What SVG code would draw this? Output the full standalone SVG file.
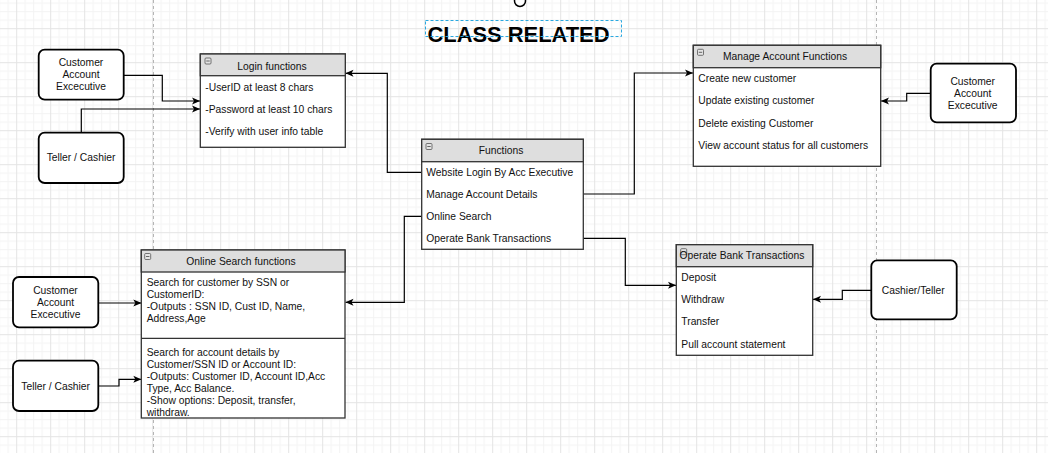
<svg xmlns="http://www.w3.org/2000/svg" width="1048" height="453" viewBox="0 0 1048 453">
<style>
.t{font-family:"Liberation Sans",Arial,sans-serif;font-size:10.3px;fill:#111}
.c{text-anchor:middle}
.box{fill:#fff;stroke:#333;stroke-width:1.3}
.hdr{fill:#dedede;stroke:#333;stroke-width:1.3}
.act{fill:#fff;stroke:#000;stroke-width:1.8}
.ico{fill:#e4e4e4;stroke:#555;stroke-width:0.8}
.ln{fill:none;stroke:#000;stroke-width:1.2}
.pb{stroke:#b5b5b5;stroke-width:1;stroke-dasharray:3,3}
</style>
<defs>
<pattern id="g" x="16.2" y="28.2" width="34" height="34" patternUnits="userSpaceOnUse">
<rect x="8.5" y="0" width="1" height="34" fill="#f3f3f3"/>
<rect x="17" y="0" width="1" height="34" fill="#f3f3f3"/>
<rect x="25.5" y="0" width="1" height="34" fill="#f3f3f3"/>
<rect x="0" y="8.5" width="34" height="1" fill="#f3f3f3"/>
<rect x="0" y="17" width="34" height="1" fill="#f3f3f3"/>
<rect x="0" y="25.5" width="34" height="1" fill="#f3f3f3"/>
<rect x="0" y="0" width="1" height="34" fill="#e4e4e4"/>
<rect x="0" y="0" width="34" height="1" fill="#e4e4e4"/>
</pattern>
<marker id="a" viewBox="0 0 8 8" refX="8" refY="4" markerWidth="8" markerHeight="8" markerUnits="userSpaceOnUse" orient="auto">
<path d="M0,0.5 L8,4 L0,7.5 L2,4 Z" fill="#000"/>
</marker>
</defs>
<rect width="1048" height="453" fill="#fff"/>
<rect width="1048" height="453" fill="url(#g)"/>
<line class="pb" x1="153.5" y1="0" x2="153.5" y2="453"/>
<line class="pb" x1="876.5" y1="0" x2="876.5" y2="453"/>

<g id="title">
<text x="427.5" y="41.5" style="font-family:'Liberation Sans',Arial,sans-serif;font-size:21.9px;font-weight:bold;fill:#000">CLASS RELATED</text>
<rect x="425.5" y="20.5" width="196" height="16" fill="none" stroke="#29a8e0" stroke-width="1" stroke-dasharray="3,2"/>
<circle cx="520" cy="1" r="5.5" fill="#fff" stroke="#000" stroke-width="1.5"/>
</g>

<g id="connectors">
<path class="ln" d="M123.7,75.3 H162.3 V101 H200" marker-end="url(#a)"/>
<path class="ln" d="M81.3,132.7 V109 H200" marker-end="url(#a)"/>
<path class="ln" d="M421.7,172.3 H387.3 V73.3 H345.5" marker-end="url(#a)"/>
<path class="ln" d="M583.3,194 H634.3 V73 H693" marker-end="url(#a)"/>
<path class="ln" d="M421.7,216.3 H404.3 V302.3 H345.5" marker-end="url(#a)"/>
<path class="ln" d="M583.3,238.3 H625.3 V285.3 H676" marker-end="url(#a)"/>
<path class="ln" d="M930.7,93.3 H906.7 V101 H881" marker-end="url(#a)"/>
<path class="ln" d="M871.3,290.3 H842.3 V299.3 H813" marker-end="url(#a)"/>
<path class="ln" d="M98.3,303 H141.3" marker-end="url(#a)"/>
<path class="ln" d="M98.3,386 H119 V379.3 H141.3" marker-end="url(#a)"/>
</g>

<g id="cae1">
<rect class="act" x="38.7" y="49.7" width="85" height="50" rx="6"/>
<text class="t c" x="81" y="65.7">Customer</text>
<text class="t c" x="81" y="77.7">Account</text>
<text class="t c" x="81" y="89.7">Excecutive</text>
</g>
<g id="teller1">
<rect class="act" x="38.7" y="132.7" width="85" height="50.3" rx="6"/>
<text class="t c" x="81" y="161">Teller / Cashier</text>
</g>

<g id="login">
<rect class="box" x="200.3" y="54" width="145" height="93.3"/>
<rect class="hdr" x="200.3" y="54" width="145" height="21.7"/>
<rect class="ico" x="205" y="58" width="6" height="6" rx="1"/>
<line x1="206.3" y1="61" x2="209.7" y2="61" stroke="#444" stroke-width="0.8"/>
<text class="t c" x="272" y="69.5">Login functions</text>
<text class="t" x="205.3" y="91">-UserID at least 8 chars</text>
<text class="t" x="205.3" y="113">-Password at least 10 chars</text>
<text class="t" x="205.3" y="135">-Verify with user info table</text>
</g>

<g id="functions">
<rect class="box" x="421.7" y="139.3" width="161.6" height="110"/>
<rect class="hdr" x="421.7" y="139.3" width="161.6" height="22.4"/>
<rect class="ico" x="426" y="143.5" width="6" height="6" rx="1"/>
<line x1="427.3" y1="146.5" x2="430.7" y2="146.5" stroke="#444" stroke-width="0.8"/>
<text class="t c" x="501" y="154">Functions</text>
<text class="t" x="426.3" y="176">Website Login By Acc Executive</text>
<text class="t" x="426.3" y="198">Manage Account Details</text>
<text class="t" x="426.3" y="220">Online Search</text>
<text class="t" x="426.3" y="242">Operate Bank Transactions</text>
</g>

<g id="manage">
<rect class="box" x="693.3" y="45.3" width="187.4" height="121"/>
<rect class="hdr" x="693.3" y="45.3" width="187.4" height="22.4"/>
<rect class="ico" x="697.5" y="49.3" width="6" height="6" rx="1"/>
<line x1="698.8" y1="52.3" x2="702.2" y2="52.3" stroke="#444" stroke-width="0.8"/>
<text class="t c" x="785" y="60">Manage Account Functions</text>
<text class="t" x="698.3" y="82">Create new customer</text>
<text class="t" x="698.3" y="104.3">Update existing customer</text>
<text class="t" x="698.3" y="127">Delete existing Customer</text>
<text class="t" x="698.3" y="149.3">View account status for all customers</text>
</g>

<g id="cae2">
<rect class="act" x="930.7" y="63.7" width="85.3" height="58.6" rx="6"/>
<text class="t c" x="972.7" y="85">Customer</text>
<text class="t c" x="972.7" y="97">Account</text>
<text class="t c" x="972.7" y="109">Excecutive</text>
</g>

<g id="operate">
<rect class="box" x="676.3" y="244.7" width="136.4" height="110.6"/>
<rect class="hdr" x="676.3" y="244.7" width="136.4" height="22"/>
<rect class="ico" x="680.7" y="248.7" width="6" height="6" rx="1"/>
<line x1="682" y1="251.7" x2="685.4" y2="251.7" stroke="#444" stroke-width="0.8"/>
<text class="t c" x="742" y="259">Operate Bank Transactions</text>
<text class="t" x="681.3" y="281">Deposit</text>
<text class="t" x="681.3" y="303">Withdraw</text>
<text class="t" x="681.3" y="325">Transfer</text>
<text class="t" x="681.3" y="347.5">Pull account statement</text>
</g>

<g id="cashier">
<rect class="act" x="871.3" y="260.3" width="85.4" height="59" rx="6"/>
<text class="t c" x="913.3" y="293.5">Cashier/Teller</text>
</g>

<g id="onlinesearch">
<rect class="box" x="141.3" y="250" width="203.7" height="168"/>
<rect class="hdr" x="141.3" y="250" width="203.7" height="22"/>
<line x1="141.3" y1="338.3" x2="345" y2="338.3" stroke="#333" stroke-width="1.3"/>
<rect class="ico" x="144.7" y="253.5" width="6" height="6" rx="1"/>
<line x1="146" y1="256.5" x2="149.4" y2="256.5" stroke="#444" stroke-width="0.8"/>
<text class="t c" x="241" y="264.5">Online Search functions</text>
<text class="t" x="146.7" y="286">Search for customer by SSN or</text>
<text class="t" x="146.7" y="298">CustomerID:</text>
<text class="t" x="146.7" y="310">-Outputs : SSN ID, Cust ID, Name,</text>
<text class="t" x="146.7" y="322">Address,Age</text>
<text class="t" x="146.7" y="356">Search for account details by</text>
<text class="t" x="146.7" y="368">Customer/SSN ID or Account ID:</text>
<text class="t" x="146.7" y="380">-Outputs: Customer ID, Account ID,Acc</text>
<text class="t" x="146.7" y="392">Type, Acc Balance.</text>
<text class="t" x="146.7" y="404">-Show options: Deposit, transfer,</text>
<text class="t" x="146.7" y="416">withdraw.</text>
</g>

<g id="cae3">
<rect class="act" x="13" y="277" width="85.3" height="50.3" rx="6"/>
<text class="t c" x="55.5" y="293.5">Customer</text>
<text class="t c" x="55.5" y="305.5">Account</text>
<text class="t c" x="55.5" y="317.5">Excecutive</text>
</g>
<g id="teller2">
<rect class="act" x="13" y="360.7" width="85.3" height="50.3" rx="6"/>
<text class="t c" x="55.7" y="389.5">Teller / Cashier</text>
</g>
</svg>
